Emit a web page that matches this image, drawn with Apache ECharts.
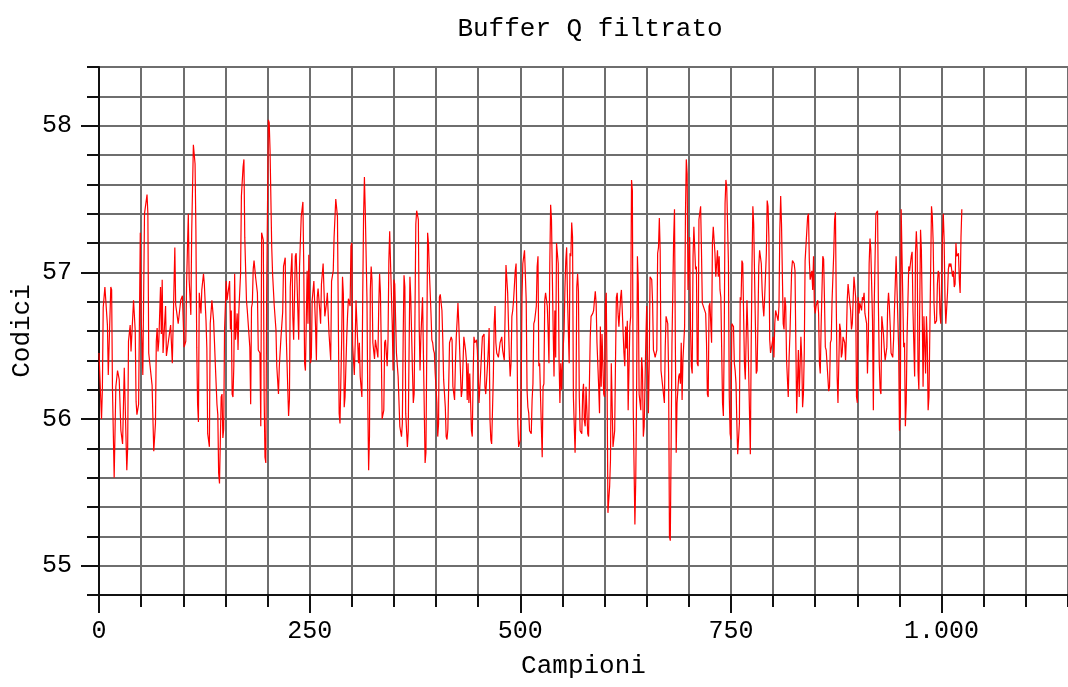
<!DOCTYPE html>
<html lang="it">
<head>
<meta charset="UTF-8">
<title>Buffer Q filtrato</title>
<script src="https://cdn.jsdelivr.net/npm/echarts@6/dist/echarts.min.js"></script>
<style>
  html, body { margin: 0; padding: 0; background: #fff; }
  #container { width: 1068px; height: 687px; }
</style>
</head>
<body>
<div id="container"></div>
<script>
// tick principali degli assi
var tickCampioni = [0, 250, 500, 750, 1000];
var tickCodici = [55, 56, 57, 58];

var misure = [
  [0,56.45],[1,56.45],[3,56.0],[4,56.2],[5,56.76],[7,56.9],[9,56.9],[10,56.64],[11,56.3],[14,56.9],[15,56.88],[16,56.2],[18,55.6],[20,56.22],[22,56.33],[24,56.27],[26,55.92],[28,55.83],[30,56.35],[33,55.65],[34,55.8],[35,56.53],[37,56.64],[38,56.46],[41,56.81],[43,56.6],[44,56.12],[45,56.03],[47,56.1],[49,57.27],[50,56.71],[52,56.3],[54,57.4],[57,57.53],[58,57.4],[59,56.45],[61,56.34],[63,56.23],[65,55.78],[67,55.97],[68,56.53],[69,56.62],[70,56.46],[71,56.53],[73,56.9],[74,56.58],[75,56.95],[76,56.45],[79,56.77],[80,56.43],[85,56.64],[87,56.38],[90,57.17],[91,56.78],[94,56.65],[97,56.81],[99,56.84],
  [101,56.49],[103,56.53],[104,56.94],[106,57.4],[107,56.95],[109,56.71],[110,57.27],[112,57.87],[114,57.74],[115,57.29],[116,56.49],[117,56.1],[118,55.98],[119,56.86],[121,56.72],[122,56.88],[124,56.99],[125,56.92],[127,56.67],[128,56.48],[129,55.9],[131,55.81],[132,56.65],[134,56.81],[136,56.67],[137,56.53],[138,56.38],[140,56.1],[141,56.03],[142,55.63],[143,55.56],[145,56.15],[146,56.17],[147,55.87],[148,55.93],[149,56.61],[151,56.94],[152,56.81],[153,56.81],[155,56.94],[156,56.61],[157,56.74],[158,56.17],[159,56.15],[160,56.36],[161,56.99],[162,56.54],[164,56.72],[165,56.47],[166,56.74],[168,56.99],[169,57.52],[171,57.72],[172,57.77],[173,57.24],[175,56.81],[176,56.74],[177,56.74],[179,56.49],[180,56.1],[181,56.76],[182,56.79],[183,57.02],[184,57.08],[186,56.96],[187,56.96],[188,56.86],[189,56.47],[191,56.45],[192,55.95],[193,57.27],[195,57.22],[196,56.15],[197,55.74],[198,55.7],[199,56.87],[201,58.04],[202,58.02],[203,57.83],[205,57.17],
  [206,56.99],[208,56.77],[210,56.61],[211,56.36],[213,56.17],[214,56.36],[216,56.56],[218,56.73],[219,57.04],[221,57.1],[222,56.61],[223,56.41],[225,56.02],[226,56.13],[227,56.9],[229,57.13],[230,56.7],[231,56.54],[233,57.11],[234,57.13],[236,56.74],[237,56.54],[238,57.04],[240,57.38],[242,57.48],[243,57.04],[244,56.38],[245,56.33],[247,57.01],[248,56.65],[249,57.12],[251,56.38],[252,56.42],[253,56.81],[255,56.94],[257,56.63],[258,56.4],[259,56.83],[260,56.89],[262,56.74],[263,56.65],[264,56.92],[266,57.06],[267,57.06],[268,56.7],[270,56.79],[271,56.86],[272,56.85],[273,56.58],[275,56.4],[276,56.94],[278,57.01],[279,57.24],[281,57.5],[283,57.38],[284,56.7],[285,56.04],[286,55.97],[288,56.54],[289,56.97],[290,56.85],[291,56.08],[292,56.15],[294,56.56],[295,56.71],[296,56.82],[298,56.77],[299,57.18],[300,57.2],[301,56.51],[303,56.3],[304,56.51],[305,56.81],[307,56.82],[308,56.38],
  [309,56.52],[310,56.29],[312,56.15],[313,56.85],[314,57.38],[315,57.65],[316,57.42],[318,56.83],[319,56.11],[320,55.65],[321,55.88],[322,56.88],[323,57.04],[324,56.95],[325,56.52],[327,56.41],[328,56.54],[329,56.54],[331,56.42],[332,56.77],[333,56.99],[334,56.86],[335,56.49],[336,56.0],[338,56.06],[339,56.52],[340,56.54],[342,56.36],[343,56.54],[344,57.08],[345,57.28],[346,57.06],[348,56.65],[349,56.33],[350,56.95],[351,56.92],[353,56.45],[355,56.29],[356,56.29],[357,55.95],[359,55.88],[360,55.97],[361,56.56],[362,56.98],[363,56.9],[364,56.04],[366,55.81],[367,55.92],[368,56.47],[369,56.97],[370,56.83],[372,56.33],[373,56.11],[374,56.17],[375,56.72],[376,57.33],[377,57.42],[379,57.36],[380,56.63],[381,56.33],[382,56.56],[384,56.83],[385,56.45],[387,55.7],[388,55.77],[389,56.47],[390,57.27],[391,57.2],[392,57.02],[394,56.72],[395,56.54],[396,56.52],[397,56.47],[398,56.45],[399,56.31],[401,56.11],[402,55.88],[403,55.97],[404,56.83],[405,56.85],[407,56.74],[408,56.54],[409,56.27],[411,56.08],[412,55.88],
  [413,55.86],[414,55.93],[416,56.52],[417,56.54],[418,56.56],[419,56.54],[420,56.22],[422,56.13],[423,56.38],[424,56.56],[425,56.67],[426,56.79],[427,56.65],[429,56.31],[430,56.15],[431,56.2],[432,56.38],[433,56.56],[435,56.47],[436,56.4],[437,56.13],[438,56.38],[439,56.11],[440,56.31],[442,55.92],[443,55.88],[444,56.29],[445,56.56],[446,56.52],[448,56.54],[449,56.47],[450,56.31],[451,56.11],[452,56.22],[453,56.33],[455,56.56],[456,56.56],[457,56.58],[458,56.22],[459,56.17],[461,56.36],[462,56.47],[463,56.62],[464,56.0],[465,55.86],[466,55.83],[468,56.29],[469,56.65],[470,56.77],[471,56.52],[472,56.45],[474,56.42],[475,56.47],[476,56.52],[477,56.54],[478,56.56],[479,56.47],[481,56.4],[482,56.72],[483,57.05],[484,57.04],[485,56.86],[487,56.42],[488,56.29],[489,56.38],[490,56.7],[491,56.74],[492,56.81],[494,57.01],[495,57.06],[496,56.63],[497,55.97],[498,55.81],[500,55.86],[501,56.17],[502,56.83],[503,57.06],[504,57.06],[505,57.15],[507,56.81],[508,56.2],[509,56.08],[510,56.04],[511,55.92],[513,55.9],[514,56.13],[515,56.24],[516,56.65],
  [517,56.67],[519,56.77],[520,57.04],[521,57.11],[522,56.36],[523,56.38],[524,56.15],[526,55.74],[527,56.22],[528,56.24],[529,56.81],[530,56.86],[532,56.77],[533,56.61],[534,56.38],[535,57.06],[536,57.46],[537,57.36],[539,56.61],[540,56.29],[541,56.74],[542,56.42],[543,57.2],[545,57.06],[546,56.4],[547,56.11],[548,56.38],[549,56.2],[550,56.38],[552,56.61],[553,56.9],[554,57.08],[555,57.17],[556,56.83],[558,56.38],[559,57.13],[560,57.11],[561,57.34],[562,57.24],[563,56.15],[565,55.77],[566,56.04],[567,56.9],[568,56.99],[569,56.87],[570,56.15],[571,55.92],[573,55.9],[574,56.17],[575,56.24],[576,55.99],[577,55.95],[578,56.22],[580,55.9],[581,55.88],[582,56.24],[583,56.56],[584,56.7],[586,56.72],[587,56.74],[588,56.81],[589,56.87],[590,56.79],[591,56.52],[593,56.22],[594,56.04],[595,56.63],[596,56.22],[597,56.58],[599,56.17],[600,56.15],[601,56.79],[602,56.86],[603,56.24],[604,55.36],[606,55.54],[607,55.72],[608,56.38],[609,56.38],[610,55.81],[612,55.92],[613,56.4],[614,56.83],[615,56.86],[616,56.72],[617,56.63],[619,56.83],[620,56.88],[621,56.74],
  [623,56.45],[624,56.36],[625,56.63],[626,56.48],[627,56.67],[628,56.06],[630,56.63],[631,56.7],[632,57.63],[633,57.56],[634,56.08],[636,55.28],[637,55.58],[638,56.17],[639,57.11],[640,56.92],[641,56.17],[643,56.06],[644,56.42],[645,56.33],[646,55.88],[647,55.95],[649,56.54],[650,56.77],[651,56.4],[652,56.04],[653,56.38],[654,56.97],[656,56.95],[657,56.79],[658,56.47],[659,56.45],[660,56.42],[662,56.47],[663,57.13],[664,57.17],[665,57.37],[666,57.15],[667,56.33],[669,56.22],[670,56.22],[671,56.11],[672,56.49],[673,56.7],[675,56.65],[676,56.31],[677,55.2],[678,55.17],[679,55.83],[680,56.52],[682,57.23],[683,57.43],[684,56.52],[685,55.77],[686,56.11],[688,56.29],[689,56.31],[690,56.24],[691,56.52],[692,56.13],[693,56.4],[695,56.63],[696,57.4],[697,57.77],[698,57.67],[699,56.88],[701,57.24],[702,56.63],[703,56.36],[704,56.31],[705,57.11],[706,57.31],[708,57.02],[709,57.04],[710,56.38],[711,56.36],[712,57.36],[714,57.45],[715,57.15],[716,56.79],[717,56.79],[718,56.79],[720,56.72],[721,56.52],[722,56.17],[723,56.15],[724,56.77],
  [725,56.79],[727,56.52],[728,57.2],[729,57.31],[730,57.31],[731,57.13],[732,56.97],[734,57.15],[735,56.97],[736,57.11],[737,56.88],[738,56.83],[740,56.11],[741,56.02],[742,56.54],[743,57.47],[744,57.63],[745,57.58],[747,57.06],[748,56.15],[749,55.9],[750,55.86],[751,56.65],[753,56.63],[754,56.38],[755,56.33],[756,56.24],[757,55.97],[758,55.76],[760,55.97],[761,56.83],[762,56.81],[763,57.08],[764,57.06],[766,56.38],[767,56.27],[768,56.54],[769,56.81],[770,56.61],[771,56.33],[773,55.76],[774,56.49],[775,57.06],[776,57.45],[777,57.33],[779,56.65],[780,56.31],[781,56.33],[782,56.65],[783,57.04],[784,57.15],[786,57.06],[787,56.88],[788,56.77],[789,56.7],[790,56.83],[792,57.13],[793,57.49],[794,57.45],[795,57.24],[796,56.54],[797,56.45],[799,56.52],[800,56.56],[801,56.42],[802,56.65],[803,56.74],[805,56.74],[806,56.67],[807,56.77],[808,57.29],[809,57.52],[810,57.33],[812,56.65],[813,56.61],[814,56.83],[815,56.77],[816,56.4],[818,56.15],[819,56.42],[820,56.58],[821,56.79],[822,57.01],[823,57.08],[825,57.06],[826,57.01],[827,56.52],[828,56.04],
  [829,56.03],[830,56.47],[831,56.15],[833,56.56],[834,56.42],[835,56.08],[836,56.17],[837,56.45],[838,57.08],[840,57.08],[841,57.38],[842,57.4],[843,57.08],[844,56.95],[846,57.01],[847,56.88],[848,57.11],[849,56.77],[850,56.72],[851,56.77],[853,56.81],[854,56.72],[855,56.38],[856,56.31],[857,56.63],[859,57.11],[860,57.09],[861,56.81],[862,56.49],[863,56.47],[864,56.38],[866,56.19],[867,56.22],[868,56.52],[869,56.54],[870,56.81],[872,57.13],[873,57.36],[874,57.41],[875,56.77],[876,56.29],[877,56.11],[879,56.65],[880,56.61],[881,56.42],[882,56.45],[883,56.56],[885,56.52],[886,56.4],[887,56.56],[888,56.81],[889,56.92],[890,56.92],[892,56.74],[893,56.61],[894,56.65],[895,56.81],[896,56.97],[898,56.83],[899,56.15],[900,56.11],[901,56.83],[902,56.72],[903,56.79],[905,56.74],[906,56.83],[907,56.81],[908,56.86],[909,56.72],[911,56.65],[912,56.31],[913,56.52],[914,57.06],[915,57.23],[916,57.15],[918,56.67],[919,56.06],[920,56.77],[921,56.77],[922,57.4],[924,57.42],[925,56.77],[926,56.38],[927,56.2],[928,56.17],[929,56.7],[931,56.58],[932,56.47],
  [933,56.4],[935,56.49],[936,56.77],[937,56.86],[938,56.77],[939,56.63],[940,56.45],[942,56.42],[943,56.54],[944,56.74],[945,56.74],[946,57.11],[948,57.12],[949,56.49],[950,55.92],[951,56.05],[952,57.43],[953,57.43],[955,56.49],[956,56.52],[957,55.95],[958,56.11],[959,56.56],[961,57.04],[962,57.01],[963,57.06],[964,57.11],[965,57.14],[966,56.74],[968,56.29],[969,57.13],[970,57.28],[971,57.15],[972,56.33],[973,56.2],[975,57.29],[976,57.15],[977,56.74],[978,56.22],[979,56.7],[981,56.31],[982,56.7],[983,56.52],[984,56.06],[985,56.15],[987,57.02],[988,57.45],[989,57.38],[990,57.2],[991,56.79],[992,56.65],[994,56.67],[995,56.92],[996,57.01],[997,56.99],[998,56.72],[999,56.65],[1001,57.24],[1002,57.4],[1003,57.22],[1004,56.83],[1005,56.65],[1007,56.86],[1008,57.02],[1009,57.06],[1010,57.04],[1011,57.06],[1013,56.97],[1014,57.01],[1015,56.9],[1016,56.92],[1017,57.2],[1018,57.11],[1020,57.13],[1021,56.95],[1022,56.86],[1023,57.24],[1024,57.43]
];

var FONT = 'Liberation Mono';

// 1000 -> "1.000"
function formatCampione(v) {
  if (v >= 1000) {
    var r = String(v % 1000);
    while (r.length < 3) r = '0' + r;
    return Math.floor(v / 1000) + '.' + r;
  }
  return String(v);
}

var chart = echarts.init(document.getElementById('container'));
var option = {
  backgroundColor: '#fff',
  animation: false,
  title: {
    text: 'Buffer Q filtrato',
    left: 585,
    top: 11,
    textAlign: 'center',
    textStyle: { fontFamily: FONT, fontSize: 26, fontWeight: 'normal', color: '#000' }
  },
  grid: { left: 99, right: -4, top: 67, bottom: 92 },
  xAxis: [{
    type: 'value',
    position: 'bottom',
    min: 0,
    max: 1150,
    interval: 50,
    name: 'Campioni',
    nameLocation: 'middle',
    nameGap: 58,
    nameTextStyle: { fontFamily: FONT, fontSize: 26, color: '#000' },
    axisLine: { show: true, onZero: false, lineStyle: { color: '#111', width: 2 } },
    axisTick: { show: true, length: 12, lineStyle: { color: '#111', width: 2 } },
    axisLabel: { show: false },
    splitLine: { show: true, lineStyle: { color: '#6e6e6e', width: 2 } }
  }, {
    type: 'value',
    position: 'bottom',
    offset: 0,
    min: 0,
    max: 1150,
    axisLine: { show: false },
    axisTick: { show: true, length: 18, customValues: tickCampioni, lineStyle: { color: '#111', width: 2 } },
    axisLabel: {
      show: true, customValues: tickCampioni, margin: 24,
      fontFamily: FONT, fontSize: 25, color: '#000',
      formatter: formatCampione
    },
    splitLine: { show: false }
  }],
  yAxis: [{
    type: 'value',
    position: 'left',
    min: 54.8,
    max: 58.4,
    interval: 0.2,
    name: 'Codici',
    nameLocation: 'middle',
    nameGap: 64,
    nameTextStyle: { fontFamily: FONT, fontSize: 26, color: '#000' },
    axisLine: { show: true, onZero: false, lineStyle: { color: '#111', width: 2 } },
    axisTick: { show: true, length: 12, lineStyle: { color: '#111', width: 2 } },
    axisLabel: { show: false },
    splitLine: { show: true, lineStyle: { color: '#6e6e6e', width: 2 } }
  }, {
    type: 'value',
    position: 'left',
    offset: 0,
    min: 54.8,
    max: 58.4,
    axisLine: { show: false },
    axisTick: { show: true, length: 18, customValues: tickCodici, lineStyle: { color: '#111', width: 2 } },
    axisLabel: {
      show: true, customValues: tickCodici, margin: 27,
      fontFamily: FONT, fontSize: 25, color: '#000'
    },
    splitLine: { show: false }
  }],
  series: [{
    type: 'line',
    xAxisIndex: 0,
    yAxisIndex: 0,
    data: misure,
    showSymbol: false,
    lineStyle: { color: '#ff0000', width: 1.2 },
    itemStyle: { color: '#ff0000' }
  }]
};
chart.setOption(option);
</script>
</body>
</html>
